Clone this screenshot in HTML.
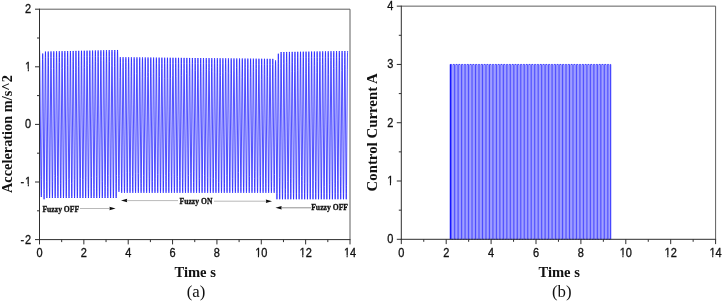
<!DOCTYPE html>
<html><head><meta charset="utf-8"><style>
html,body{margin:0;padding:0;background:#fff;width:723px;height:301px;overflow:hidden}
</style></head><body>
<svg width="723" height="301" viewBox="0 0 723 301" style="position:absolute;left:0;top:0;will-change:transform"><path fill="none" stroke="#2020ff" stroke-width="0.78" d="M39.50,49.52 39.61,50.83 39.73,55.58 39.85,62.58 40.86,176.21 41.07,190.91 41.19,195.67 41.30,196.98 41.39,195.71 41.48,191.08 41.61,179.78 42.34,75.00 42.51,59.45 42.60,54.82 42.69,53.55 42.77,54.84 42.87,59.54 42.98,69.35 43.76,182.05 43.89,193.29 43.99,197.99 44.07,199.28 44.16,197.97 44.25,193.21 44.30,189.49 45.17,66.97 45.28,57.65 45.38,52.89 45.46,51.58 45.54,52.87 45.64,57.60 45.69,61.05 46.55,181.70 46.67,191.99 46.76,196.72 46.85,198.01 46.93,196.72 47.03,191.99 47.08,188.16 47.88,73.12 48.05,57.54 48.15,52.81 48.23,51.52 48.32,52.81 48.41,57.54 48.51,65.84 49.37,186.94 49.44,191.99 49.54,196.72 49.62,198.01 49.70,196.71 49.80,191.99 49.86,187.53 50.68,70.95 50.82,57.48 50.92,52.75 51.01,51.45 51.09,52.75 51.19,57.48 51.31,68.68 52.16,188.36 52.21,191.99 52.31,196.71 52.39,198.01 52.47,196.71 52.57,191.98 52.69,181.52 53.47,68.27 53.60,57.42 53.69,52.69 53.78,51.39 53.86,52.69 53.96,57.42 54.13,74.12 54.81,175.66 54.98,191.98 55.08,196.71 55.16,198.01 55.25,196.71 55.34,191.98 55.50,177.20 56.23,69.82 56.37,57.36 56.47,52.63 56.55,51.33 56.63,52.63 56.73,57.36 56.79,62.07 57.59,176.82 57.76,191.98 57.85,196.71 57.94,198.01 58.02,196.71 58.12,191.98 58.20,185.22 59.07,62.49 59.14,57.31 59.24,52.57 59.32,51.27 59.41,52.57 59.50,57.31 59.57,62.46 60.43,183.75 60.53,191.98 60.63,196.71 60.71,198.01 60.79,196.71 60.89,191.98 61.02,180.59 61.79,68.46 61.91,57.25 62.01,52.51 62.09,51.21 62.18,52.51 62.27,57.25 62.39,67.29 63.13,175.90 63.30,191.98 63.40,196.71 63.48,198.01 63.56,196.71 63.66,191.97 63.71,188.26 64.53,70.96 64.69,57.19 64.78,52.45 64.87,51.15 64.95,52.45 65.05,57.19 65.18,69.20 65.95,181.56 66.07,191.97 66.17,196.71 66.25,198.01 66.34,196.71 66.43,191.97 66.52,185.13 67.36,65.31 67.46,57.13 67.56,52.39 67.64,51.09 67.72,52.39 67.82,57.13 67.92,65.85 68.71,179.65 68.85,191.97 68.94,196.71 69.03,198.01 69.11,196.71 69.21,191.97 69.36,178.18 70.15,63.75 70.23,57.07 70.33,52.33 70.41,51.03 70.49,52.33 70.59,57.07 70.67,63.02 71.52,183.63 71.62,191.97 71.71,196.71 71.80,198.01 71.88,196.71 71.98,191.97 72.09,182.23 72.94,61.50 73.00,57.01 73.10,52.27 73.18,50.97 73.27,52.27 73.36,57.01 73.51,69.79 74.25,179.46 74.39,191.97 74.49,196.71 74.57,198.01 74.65,196.71 74.75,191.96 74.93,175.14 75.61,72.15 75.78,56.95 75.87,52.21 75.96,50.90 76.04,52.21 76.14,56.95 76.24,65.20 77.09,186.03 77.16,191.96 77.26,196.71 77.34,198.01 77.43,196.71 77.52,191.96 77.59,187.15 78.44,66.44 78.55,56.89 78.65,52.15 78.73,50.84 78.81,52.15 78.91,56.89 78.96,60.39 79.85,184.87 79.93,191.96 80.03,196.71 80.11,198.01 80.20,196.71 80.29,191.96 80.44,178.62 81.22,65.21 81.32,56.84 81.42,52.09 81.50,50.78 81.58,52.09 81.68,56.84 81.84,71.94 82.57,179.83 82.71,191.96 82.80,196.71 82.89,198.01 82.97,196.71 83.07,191.96 83.20,179.68 83.99,64.86 84.09,56.78 84.19,52.03 84.27,50.72 84.36,52.03 84.45,56.78 84.58,67.33 85.36,181.93 85.48,191.96 85.58,196.71 85.66,198.01 85.74,196.71 85.84,191.95 86.00,177.41 86.82,60.40 86.87,56.72 86.96,51.96 87.05,50.66 87.13,51.96 87.23,56.72 87.33,65.75 88.16,184.80 88.25,191.95 88.35,196.71 88.43,198.01 88.51,196.71 88.61,191.95 88.66,188.21 89.55,63.32 89.64,56.66 89.73,51.90 89.82,50.60 89.90,51.90 90.00,56.66 90.13,68.21 90.98,188.82 91.02,191.95 91.12,196.71 91.20,198.01 91.29,196.71 91.38,191.95 91.54,177.68 92.27,69.20 92.41,56.60 92.51,51.84 92.59,50.54 92.67,51.84 92.77,56.60 92.87,64.43 93.71,184.85 93.80,191.95 93.89,196.71 93.98,198.01 94.06,196.71 94.16,191.95 94.20,188.63 95.07,66.50 95.18,56.54 95.28,51.78 95.36,50.48 95.45,51.78 95.54,56.54 95.61,61.57 96.40,176.69 96.57,191.95 96.67,196.71 96.75,198.01 96.83,196.71 96.93,191.94 96.98,188.21 97.88,62.30 97.95,56.48 98.05,51.72 98.13,50.41 98.22,51.72 98.31,56.48 98.37,61.04 99.19,178.76 99.34,191.94 99.44,196.71 99.52,198.01 99.60,196.71 99.70,191.94 99.80,184.04 100.67,60.97 100.73,56.43 100.82,51.66 100.91,50.35 100.99,51.66 101.09,56.43 101.14,60.41 101.99,181.79 102.11,191.94 102.21,196.71 102.29,198.01 102.38,196.70 102.47,191.94 102.59,181.80 103.44,60.78 103.50,56.37 103.60,51.60 103.68,50.29 103.76,51.60 103.86,56.37 104.01,70.62 104.82,187.30 104.89,191.94 104.98,196.70 105.07,198.01 105.15,196.70 105.25,191.94 105.33,185.52 106.15,66.96 106.27,56.31 106.37,51.54 106.45,50.23 106.53,51.54 106.63,56.31 106.72,63.79 107.60,187.54 107.66,191.94 107.75,196.70 107.84,198.01 107.92,196.70 108.02,191.93 108.19,175.41 108.88,70.99 109.04,56.25 109.14,51.48 109.22,50.17 109.31,51.48 109.40,56.25 109.47,61.38 110.28,178.48 110.43,191.93 110.53,196.70 110.61,198.01 110.69,196.70 110.79,191.93 110.86,186.08 111.70,65.84 111.82,56.19 111.91,51.42 112.00,50.11 112.08,51.42 112.18,56.19 112.30,66.92 113.06,178.96 113.20,191.93 113.30,196.70 113.38,198.01 113.47,196.70 113.56,191.93 113.60,188.82 114.47,66.75 114.59,56.13 114.69,51.36 114.77,50.05 114.85,51.36 114.95,56.13 115.04,63.76 115.87,183.42 115.97,191.93 116.07,196.70 116.15,198.01 116.24,196.70 116.33,191.93 116.51,175.45 117.28,62.91 117.36,56.07 117.46,51.30 117.54,49.99 117.62,51.24 117.72,55.82 117.83,65.08 118.65,178.48 118.75,185.96 118.84,190.54 118.93,191.79 119.01,190.60 119.11,186.26 119.24,175.31 119.96,77.61 120.13,62.74 120.23,58.40 120.31,57.21 120.40,58.41 120.49,62.78 120.66,77.05 121.45,181.99 121.52,187.20 121.62,191.57 121.70,192.77 121.78,191.57 121.88,187.20 122.04,173.31 122.84,67.81 122.91,62.81 123.00,58.44 123.09,57.24 123.17,58.44 123.27,62.81 123.36,70.09 124.17,177.21 124.29,187.20 124.39,191.57 124.47,192.77 124.55,191.57 124.65,187.20 124.71,183.30 125.59,69.78 125.68,62.84 125.77,58.47 125.86,57.27 125.94,58.47 126.04,62.84 126.09,66.30 126.89,172.43 127.06,187.20 127.16,191.57 127.24,192.77 127.33,191.57 127.42,187.20 127.49,182.13 128.29,76.21 128.45,62.87 128.55,58.50 128.63,57.30 128.71,58.50 128.81,62.87 128.90,69.50 129.66,172.21 129.84,187.20 129.93,191.57 130.02,192.77 130.10,191.57 130.20,187.20 130.24,184.39 131.06,76.40 131.22,62.90 131.32,58.53 131.40,57.33 131.49,58.53 131.58,62.90 131.64,66.78 132.48,176.73 132.61,187.20 132.71,191.57 132.79,192.77 132.87,191.57 132.97,187.20 133.01,184.13 133.94,67.07 133.99,62.93 134.09,58.56 134.17,57.36 134.26,58.56 134.35,62.93 134.48,73.09 135.22,173.67 135.38,187.20 135.48,191.57 135.56,192.77 135.64,191.57 135.74,187.20 135.82,181.63 136.63,73.64 136.77,62.96 136.86,58.59 136.95,57.39 137.03,58.59 137.13,62.96 137.22,69.87 137.99,173.29 138.15,187.20 138.25,191.57 138.33,192.77 138.42,191.57 138.51,187.21 138.67,173.71 139.50,65.86 139.54,62.99 139.64,58.62 139.72,57.42 139.80,58.62 139.90,62.99 140.01,71.18 140.81,178.36 140.93,187.21 141.02,191.57 141.11,192.77 141.19,191.57 141.29,187.21 141.34,183.50 142.15,77.23 142.31,63.01 142.41,58.65 142.49,57.45 142.57,58.65 142.67,63.01 142.76,69.66 143.55,175.36 143.70,187.21 143.79,191.57 143.88,192.77 143.96,191.57 144.06,187.21 144.21,174.02 144.93,76.38 145.08,63.04 145.18,58.68 145.26,57.48 145.35,58.68 145.44,63.04 145.49,66.08 146.42,183.90 146.47,187.21 146.57,191.57 146.65,192.77 146.73,191.57 146.83,187.21 146.95,178.21 147.70,76.62 147.86,63.07 147.95,58.71 148.04,57.51 148.12,58.71 148.22,63.07 148.33,72.27 149.07,171.85 149.24,187.21 149.34,191.57 149.42,192.77 149.51,191.57 149.60,187.21 149.72,178.21 150.58,66.12 150.63,63.10 150.73,58.74 150.81,57.54 150.89,58.74 150.99,63.10 151.15,76.80 151.93,181.03 152.01,187.21 152.11,191.57 152.19,192.77 152.28,191.57 152.38,187.21 152.45,181.54 153.27,73.54 153.40,63.13 153.50,58.77 153.58,57.57 153.66,58.77 153.76,63.13 153.83,67.72 154.71,181.93 154.79,187.21 154.88,191.57 154.97,192.77 155.05,191.57 155.15,187.21 155.26,178.16 156.10,68.36 156.17,63.16 156.27,58.80 156.35,57.60 156.44,58.80 156.53,63.16 156.62,69.64 157.41,174.79 157.56,187.21 157.66,191.57 157.74,192.77 157.82,191.57 157.92,187.21 158.07,174.29 158.90,66.14 158.95,63.19 159.04,58.83 159.13,57.63 159.21,58.83 159.31,63.19 159.47,76.72 160.26,182.32 160.33,187.21 160.43,191.57 160.51,192.77 160.59,191.57 160.69,187.22 160.85,174.19 161.64,68.87 161.72,63.22 161.81,58.86 161.90,57.66 161.98,58.86 162.08,63.22 162.15,68.48 163.00,178.82 163.10,187.22 163.20,191.57 163.28,192.77 163.37,191.57 163.46,187.22 163.56,180.42 164.31,78.55 164.49,63.25 164.59,58.89 164.67,57.69 164.75,58.89 164.85,63.25 164.90,66.33 165.73,175.60 165.88,187.22 165.97,191.57 166.06,192.77 166.14,191.58 166.24,187.22 166.31,181.58 167.18,69.49 167.26,63.27 167.36,58.92 167.44,57.72 167.53,58.92 167.62,63.27 167.80,78.35 168.53,177.91 168.65,187.22 168.75,191.58 168.83,192.77 168.91,191.58 169.01,187.22 169.18,172.44 169.99,66.22 170.03,63.30 170.13,58.95 170.21,57.75 170.30,58.95 170.40,63.30 170.57,78.36 171.29,176.80 171.42,187.22 171.52,191.58 171.60,192.77 171.68,191.58 171.78,187.22 171.85,182.03 172.66,75.69 172.81,63.33 172.90,58.98 172.99,57.78 173.07,58.98 173.17,63.33 173.24,68.25 174.04,174.54 174.19,187.22 174.29,191.58 174.37,192.77 174.46,191.58 174.55,187.22 174.68,176.96 175.52,67.20 175.58,63.36 175.68,59.01 175.76,57.81 175.84,59.01 175.94,63.36 176.10,76.69 176.85,178.34 176.97,187.22 177.06,191.58 177.15,192.77 177.23,191.58 177.33,187.22 177.46,176.57 178.28,68.35 178.35,63.39 178.45,59.04 178.53,57.84 178.62,59.04 178.71,63.39 178.77,67.07 179.65,180.63 179.74,187.22 179.83,191.58 179.92,192.77 180.00,191.58 180.10,187.22 180.27,172.87 181.05,68.57 181.12,63.42 181.22,59.07 181.30,57.87 181.39,59.07 181.48,63.42 181.63,75.43 182.40,178.33 182.51,187.22 182.61,191.58 182.69,192.77 182.77,191.58 182.87,187.22 182.94,182.52 183.83,68.52 183.90,63.45 183.99,59.10 184.08,57.90 184.16,59.10 184.26,63.45 184.34,69.95 185.21,182.28 185.28,187.22 185.38,191.58 185.46,192.77 185.55,191.58 185.64,187.23 185.82,171.94 186.54,73.46 186.67,63.48 186.77,59.13 186.85,57.93 186.93,59.13 187.03,63.48 187.13,70.82 188.01,183.88 188.05,187.23 188.15,191.58 188.24,192.77 188.32,191.58 188.42,187.23 188.56,175.58 189.28,76.67 189.44,63.51 189.54,59.16 189.62,57.96 189.70,59.16 189.80,63.51 189.86,67.64 190.67,173.79 190.83,187.23 190.92,191.58 191.01,192.77 191.09,191.58 191.19,187.23 191.35,172.96 192.14,68.41 192.21,63.53 192.31,59.19 192.39,57.99 192.48,59.19 192.57,63.53 192.64,67.88 193.53,182.58 193.60,187.23 193.70,191.58 193.78,192.77 193.86,191.58 193.96,187.23 194.14,171.82 194.90,70.19 194.99,63.56 195.08,59.21 195.17,58.02 195.25,59.21 195.35,63.56 195.44,70.28 196.27,179.26 196.37,187.23 196.47,191.58 196.55,192.77 196.64,191.58 196.73,187.23 196.79,183.05 197.58,79.08 197.76,63.59 197.85,59.24 197.94,58.05 198.02,59.24 198.12,63.59 198.29,78.85 199.05,180.52 199.14,187.23 199.24,191.58 199.32,192.77 199.41,191.58 199.50,187.23 199.62,178.29 200.48,67.10 200.53,63.62 200.63,59.27 200.71,58.08 200.79,59.27 200.89,63.62 200.99,71.37 201.86,183.09 201.92,187.23 202.01,191.58 202.10,192.77 202.18,191.58 202.28,187.23 202.43,174.14 203.15,76.20 203.30,63.65 203.40,59.30 203.48,58.11 203.57,59.30 203.66,63.65 203.74,69.19 204.55,175.85 204.69,187.23 204.79,191.58 204.87,192.77 204.95,191.58 205.05,187.23 205.12,181.83 205.98,71.17 206.07,63.68 206.17,59.33 206.26,58.14 206.34,59.33 206.44,63.68 206.51,69.30 207.34,177.58 207.46,187.23 207.56,191.58 207.64,192.77 207.72,191.58 207.82,187.24 207.88,183.06 208.79,67.44 208.85,63.71 208.94,59.36 209.03,58.17 209.11,59.36 209.21,63.71 209.30,70.46 210.12,178.10 210.23,187.24 210.33,191.58 210.41,192.77 210.50,191.58 210.59,187.24 210.72,177.55 211.56,67.53 211.62,63.74 211.72,59.39 211.80,58.20 211.88,59.39 211.98,63.74 212.08,71.31 212.95,183.59 213.01,187.24 213.10,191.58 213.19,192.77 213.27,191.58 213.37,187.24 213.48,178.63 214.29,71.94 214.39,63.77 214.49,59.42 214.57,58.23 214.66,59.42 214.75,63.77 214.87,72.65 215.60,171.84 215.78,187.24 215.88,191.58 215.96,192.77 216.04,191.58 216.14,187.24 216.24,179.42 217.01,76.74 217.16,63.79 217.26,59.45 217.34,58.26 217.43,59.45 217.52,63.79 217.57,66.62 218.48,182.29 218.55,187.24 218.65,191.58 218.73,192.77 218.81,191.58 218.91,187.24 218.98,182.61 219.82,72.75 219.94,63.82 220.03,59.48 220.12,58.29 220.20,59.48 220.30,63.82 220.44,75.45 221.22,179.38 221.32,187.24 221.42,191.58 221.50,192.77 221.59,191.58 221.68,187.24 221.77,180.84 222.60,72.19 222.71,63.85 222.81,59.51 222.89,58.32 222.97,59.51 223.07,63.85 223.19,73.16 224.02,182.13 224.10,187.24 224.19,191.58 224.28,192.77 224.36,191.58 224.46,187.24 224.51,183.35 225.38,71.69 225.48,63.88 225.58,59.54 225.66,58.35 225.74,59.54 225.84,63.88 225.92,69.37 226.73,175.65 226.87,187.24 226.96,191.58 227.05,192.77 227.13,191.58 227.23,187.24 227.38,174.96 228.14,72.38 228.25,63.91 228.35,59.57 228.43,58.38 228.52,59.57 228.61,63.91 228.73,73.29 229.56,181.85 229.64,187.24 229.74,191.58 229.82,192.77 229.90,191.58 230.00,187.25 230.17,172.91 230.91,73.25 231.03,63.94 231.12,59.60 231.21,58.41 231.29,59.60 231.39,63.94 231.51,74.00 232.30,178.75 232.41,187.25 232.51,191.58 232.59,192.77 232.68,191.58 232.77,187.25 232.88,178.52 233.71,70.14 233.80,63.97 233.90,59.63 233.98,58.44 234.06,59.63 234.16,63.97 234.26,71.93 235.08,179.10 235.18,187.25 235.28,191.58 235.36,192.77 235.45,191.58 235.54,187.25 235.65,178.96 236.52,67.38 236.57,64.00 236.67,59.66 236.75,58.47 236.83,59.66 236.93,64.00 237.07,75.24 237.90,183.17 237.96,187.25 238.05,191.58 238.14,192.77 238.22,191.58 238.32,187.25 238.49,172.47 239.20,75.85 239.34,64.03 239.44,59.69 239.52,58.50 239.61,59.69 239.70,64.03 239.82,73.37 240.68,183.88 240.73,187.25 240.83,191.58 240.91,192.77 240.99,191.58 241.09,187.25 241.25,174.00 241.95,77.64 242.12,64.05 242.21,59.72 242.30,58.53 242.38,59.72 242.48,64.05 242.53,68.11 243.38,177.93 243.50,187.25 243.60,191.58 243.68,192.77 243.76,191.58 243.86,187.25 243.91,183.72 244.74,76.17 244.89,64.08 244.98,59.75 245.07,58.56 245.15,59.75 245.25,64.08 245.30,67.62 246.19,180.80 246.27,187.25 246.37,191.58 246.45,192.77 246.54,191.58 246.63,187.25 246.78,174.82 247.60,67.97 247.66,64.11 247.76,59.78 247.84,58.59 247.92,59.78 248.02,64.11 248.08,68.53 248.96,181.36 249.05,187.25 249.14,191.58 249.23,192.77 249.31,191.58 249.41,187.25 249.54,176.56 250.27,77.63 250.43,64.14 250.53,59.81 250.61,58.62 250.70,59.81 250.79,64.14 250.96,78.01 251.77,184.14 251.82,187.25 251.92,191.58 252.00,192.77 252.08,191.58 252.18,187.26 252.25,182.11 253.16,67.44 253.20,64.17 253.30,59.84 253.38,58.65 253.47,59.84 253.56,64.17 253.66,71.44 254.48,178.53 254.59,187.26 254.69,191.58 254.77,192.77 254.85,191.58 254.95,187.26 255.13,171.78 255.91,68.76 255.98,64.20 256.07,59.87 256.16,58.68 256.24,59.87 256.34,64.20 256.40,68.69 257.24,177.81 257.36,187.26 257.46,191.58 257.54,192.77 257.63,191.58 257.72,187.26 257.84,178.50 258.62,74.92 258.75,64.23 258.85,59.90 258.93,58.71 259.01,59.90 259.11,64.23 259.18,69.10 260.00,176.28 260.14,187.26 260.23,191.58 260.32,192.77 260.40,191.58 260.50,187.26 260.64,175.72 261.34,79.59 261.52,64.26 261.62,59.93 261.70,58.74 261.78,59.93 261.88,64.26 262.00,73.51 262.79,177.93 262.91,187.26 263.00,191.58 263.09,192.77 263.17,191.58 263.27,187.26 263.31,184.30 264.16,75.08 264.29,64.29 264.39,59.96 264.47,58.77 264.56,59.96 264.65,64.29 264.78,74.47 265.57,178.87 265.68,187.26 265.78,191.58 265.86,192.77 265.94,191.58 266.04,187.26 266.09,183.82 267.02,67.24 267.07,64.31 267.16,59.99 267.25,58.80 267.33,59.99 267.43,64.31 267.58,76.79 268.41,184.20 268.45,187.26 268.55,191.58 268.63,192.77 268.72,191.59 268.81,187.26 268.87,183.39 269.69,76.05 269.84,64.34 269.94,60.02 270.02,58.83 270.10,60.02 270.20,64.34 270.25,67.52 271.15,182.11 271.22,187.26 271.32,191.59 271.40,192.77 271.49,191.59 271.58,187.26 271.66,181.54 272.45,78.04 272.61,64.37 272.71,60.05 272.79,58.87 272.87,60.05 272.97,64.37 273.07,71.93 273.94,183.57 274.00,187.26 274.09,191.59 274.18,192.77 274.26,191.60 274.36,187.33 274.51,174.56 275.24,77.52 275.38,65.85 275.48,61.58 275.56,60.41 275.65,61.64 275.74,66.12 275.81,70.63 276.72,189.82 276.77,193.57 276.87,198.05 276.95,199.28 277.03,197.99 277.13,193.29 277.25,183.00 278.07,66.30 278.16,59.71 278.25,55.01 278.34,53.72 278.42,55.01 278.52,59.71 278.57,63.74 279.37,177.27 279.54,193.29 279.64,197.99 279.72,199.28 279.80,197.98 279.90,193.23 280.04,181.06 280.81,68.57 280.93,58.10 281.02,53.35 281.11,52.04 281.19,53.35 281.29,58.10 281.34,61.97 282.26,189.48 282.31,193.23 282.41,197.98 282.49,199.28 282.58,197.98 282.67,193.22 282.80,181.87 283.63,63.44 283.70,58.06 283.80,53.31 283.88,52.00 283.96,53.31 284.06,58.06 284.11,62.07 285.02,188.50 285.09,193.22 285.18,197.98 285.27,199.28 285.35,197.98 285.45,193.22 285.50,189.41 286.41,62.66 286.47,58.02 286.57,53.26 286.65,51.96 286.74,53.26 286.83,58.02 286.94,66.77 287.73,181.47 287.86,193.22 287.96,197.98 288.04,199.28 288.12,197.97 288.22,193.22 288.34,183.06 289.19,61.86 289.24,57.97 289.34,53.22 289.42,51.91 289.51,53.22 289.60,57.97 289.68,64.24 290.47,178.17 290.63,193.22 290.73,197.97 290.81,199.28 290.89,197.97 290.99,193.22 291.11,183.43 291.87,71.24 292.02,57.93 292.11,53.18 292.20,51.87 292.28,53.18 292.38,57.93 292.43,62.25 293.25,178.69 293.40,193.22 293.50,197.97 293.58,199.28 293.67,197.97 293.76,193.22 293.81,189.59 294.64,71.78 294.79,57.89 294.89,53.13 294.97,51.83 295.05,53.13 295.15,57.89 295.23,64.73 296.04,180.93 296.18,193.22 296.27,197.97 296.36,199.28 296.44,197.97 296.54,193.21 296.68,179.93 297.42,70.37 297.56,57.85 297.66,53.09 297.74,51.78 297.82,53.09 297.92,57.85 298.03,67.26 298.79,178.94 298.95,193.21 299.04,197.97 299.13,199.28 299.21,197.97 299.31,193.21 299.40,185.90 300.16,74.70 300.33,57.81 300.43,53.05 300.51,51.74 300.60,53.05 300.69,57.81 300.77,63.86 301.54,176.27 301.72,193.21 301.82,197.97 301.90,199.28 301.98,197.97 302.08,193.21 302.22,180.33 303.00,66.46 303.11,57.76 303.20,53.00 303.29,51.70 303.37,53.00 303.47,57.76 303.53,63.05 304.38,183.43 304.49,193.21 304.59,197.97 304.67,199.28 304.76,197.97 304.85,193.21 305.02,177.09 305.71,73.17 305.88,57.72 305.98,52.96 306.06,51.65 306.14,52.96 306.24,57.72 306.39,71.96 307.14,182.81 307.26,193.21 307.36,197.97 307.44,199.28 307.53,197.97 307.63,193.21 307.74,183.86 308.59,62.68 308.65,57.68 308.75,52.92 308.83,51.61 308.91,52.92 309.01,57.68 309.11,65.62 309.93,183.88 310.04,193.21 310.13,197.97 310.22,199.28 310.30,197.97 310.40,193.21 310.53,181.01 311.38,60.90 311.42,57.64 311.52,52.87 311.60,51.56 311.69,52.87 311.78,57.64 311.87,64.90 312.74,188.18 312.81,193.21 312.91,197.97 312.99,199.28 313.07,197.97 313.17,193.20 313.31,180.71 314.10,65.14 314.20,57.60 314.29,52.83 314.38,51.52 314.46,52.83 314.56,57.60 314.65,65.69 315.45,181.54 315.58,193.20 315.68,197.97 315.76,199.28 315.85,197.97 315.94,193.20 315.99,189.52 316.81,72.64 316.97,57.56 317.06,52.79 317.15,51.48 317.23,52.79 317.33,57.56 317.38,61.43 318.28,187.03 318.35,193.20 318.45,197.97 318.53,199.28 318.62,197.97 318.71,193.20 318.79,187.07 319.58,72.06 319.74,57.51 319.84,52.74 319.92,51.43 320.00,52.74 320.10,57.51 320.15,61.55 321.06,188.28 321.13,193.20 321.22,197.97 321.31,199.28 321.39,197.97 321.49,193.20 321.65,178.10 322.43,64.56 322.51,57.47 322.61,52.70 322.69,51.39 322.78,52.70 322.87,57.47 322.95,63.94 323.75,179.91 323.90,193.20 324.00,197.97 324.08,199.28 324.16,197.97 324.26,193.20 324.34,186.58 325.17,67.45 325.28,57.43 325.38,52.66 325.46,51.35 325.55,52.66 325.65,57.43 325.71,62.34 326.55,182.98 326.67,193.20 326.77,197.97 326.85,199.28 326.93,197.97 327.03,193.19 327.11,186.96 328.01,60.89 328.06,57.39 328.15,52.61 328.24,51.30 328.32,52.61 328.42,57.39 328.59,74.18 329.34,184.42 329.44,193.19 329.54,197.97 329.62,199.28 329.71,197.97 329.80,193.19 329.88,187.20 330.78,60.80 330.83,57.35 330.93,52.57 331.01,51.26 331.09,52.57 331.19,57.35 331.27,64.18 332.08,181.65 332.22,193.19 332.31,197.97 332.40,199.28 332.48,197.97 332.58,193.19 332.62,190.11 333.47,68.48 333.60,57.30 333.70,52.53 333.78,51.22 333.87,52.53 333.96,57.30 334.07,66.39 334.88,183.78 334.99,193.19 335.08,197.97 335.17,199.28 335.25,197.97 335.35,193.19 335.42,187.74 336.26,66.64 336.37,57.26 336.47,52.48 336.55,51.17 336.64,52.48 336.73,57.26 336.78,60.39 337.62,180.22 337.76,193.19 337.86,197.97 337.94,199.28 338.02,197.97 338.12,193.19 338.17,189.09 339.02,68.13 339.15,57.22 339.24,52.44 339.33,51.13 339.41,52.44 339.51,57.22 339.55,60.76 340.36,176.29 340.53,193.19 340.63,197.97 340.71,199.28 340.80,197.97 340.89,193.19 340.98,186.41 341.77,70.65 341.92,57.18 342.02,52.40 342.10,51.08 342.18,52.40 342.28,57.18 342.40,67.88 343.20,184.14 343.30,193.19 343.40,197.97 343.49,199.28 343.57,197.97 343.67,193.18 343.81,179.97 344.60,64.42 344.69,57.14 344.79,52.35 344.87,51.04 344.95,52.35 345.05,57.14 345.19,69.81 346.02,188.71 346.08,193.18 346.17,197.97 346.26,199.28 346.34,197.97 346.44,193.18 346.53,185.26 347.33,69.12 347.46,57.09 347.56,52.31 347.64,51.00"/><polyline fill="none" stroke="#2020ff" stroke-width="0.8" points="450.24,239.30 450.24,64.44 451.64,64.44 451.64,239.30 453.05,239.30 453.05,64.44 454.45,64.44 454.45,239.30 455.85,239.30 455.85,64.44 457.26,64.44 457.26,239.30 458.66,239.30 458.66,64.44 460.06,64.44 460.06,239.30 461.47,239.30 461.47,64.44 462.87,64.44 462.87,239.30 464.27,239.30 464.27,64.44 465.68,64.44 465.68,239.30 467.08,239.30 467.08,64.44 468.48,64.44 468.48,239.30 469.88,239.30 469.88,64.44 471.29,64.44 471.29,239.30 472.69,239.30 472.69,64.44 474.09,64.44 474.09,239.30 475.50,239.30 475.50,64.44 476.90,64.44 476.90,239.30 478.30,239.30 478.30,64.44 479.71,64.44 479.71,239.30 481.11,239.30 481.11,64.44 482.51,64.44 482.51,239.30 483.92,239.30 483.92,64.44 485.32,64.44 485.32,239.30 486.72,239.30 486.72,64.44 488.13,64.44 488.13,239.30 489.53,239.30 489.53,64.44 490.93,64.44 490.93,239.30 492.33,239.30 492.33,64.44 493.74,64.44 493.74,239.30 495.14,239.30 495.14,64.44 496.54,64.44 496.54,239.30 497.95,239.30 497.95,64.44 499.35,64.44 499.35,239.30 500.75,239.30 500.75,64.44 502.16,64.44 502.16,239.30 503.56,239.30 503.56,64.44 504.96,64.44 504.96,239.30 506.37,239.30 506.37,64.44 507.77,64.44 507.77,239.30 509.17,239.30 509.17,64.44 510.58,64.44 510.58,239.30 511.98,239.30 511.98,64.44 513.38,64.44 513.38,239.30 514.78,239.30 514.78,64.44 516.19,64.44 516.19,239.30 517.59,239.30 517.59,64.44 518.99,64.44 518.99,239.30 520.40,239.30 520.40,64.44 521.80,64.44 521.80,239.30 523.20,239.30 523.20,64.44 524.61,64.44 524.61,239.30 526.01,239.30 526.01,64.44 527.41,64.44 527.41,239.30 528.82,239.30 528.82,64.44 530.22,64.44 530.22,239.30 531.62,239.30 531.62,64.44 533.03,64.44 533.03,239.30 534.43,239.30 534.43,64.44 535.83,64.44 535.83,239.30 537.23,239.30 537.23,64.44 538.64,64.44 538.64,239.30 540.04,239.30 540.04,64.44 541.44,64.44 541.44,239.30 542.85,239.30 542.85,64.44 544.25,64.44 544.25,239.30 545.65,239.30 545.65,64.44 547.06,64.44 547.06,239.30 548.46,239.30 548.46,64.44 549.86,64.44 549.86,239.30 551.27,239.30 551.27,64.44 552.67,64.44 552.67,239.30 554.07,239.30 554.07,64.44 555.48,64.44 555.48,239.30 556.88,239.30 556.88,64.44 558.28,64.44 558.28,239.30 559.68,239.30 559.68,64.44 561.09,64.44 561.09,239.30 562.49,239.30 562.49,64.44 563.89,64.44 563.89,239.30 565.30,239.30 565.30,64.44 566.70,64.44 566.70,239.30 568.10,239.30 568.10,64.44 569.51,64.44 569.51,239.30 570.91,239.30 570.91,64.44 572.31,64.44 572.31,239.30 573.72,239.30 573.72,64.44 575.12,64.44 575.12,239.30 576.52,239.30 576.52,64.44 577.93,64.44 577.93,239.30 579.33,239.30 579.33,64.44 580.73,64.44 580.73,239.30 582.13,239.30 582.13,64.44 583.54,64.44 583.54,239.30 584.94,239.30 584.94,64.44 586.34,64.44 586.34,239.30 587.75,239.30 587.75,64.44 589.15,64.44 589.15,239.30 590.55,239.30 590.55,64.44 591.96,64.44 591.96,239.30 593.36,239.30 593.36,64.44 594.76,64.44 594.76,239.30 596.17,239.30 596.17,64.44 597.57,64.44 597.57,239.30 598.97,239.30 598.97,64.44 600.38,64.44 600.38,239.30 601.78,239.30 601.78,64.44 603.18,64.44 603.18,239.30 604.58,239.30 604.58,64.44 605.99,64.44 605.99,239.30 607.39,239.30 607.39,64.44 608.79,64.44 608.79,239.30 610.20,239.30 610.20,64.44 610.76,64.44 610.76,239.30 610.76,239.30"/><line x1="450.44" y1="64.44" x2="450.44" y2="239.30" stroke="#1010ff" stroke-width="1"/><line x1="39.5" y1="9.2" x2="350.0" y2="9.2" stroke="#5e5e5e" stroke-width="1"/><line x1="350.0" y1="9.2" x2="350.0" y2="239.6" stroke="#5e5e5e" stroke-width="1"/><line x1="39.5" y1="8.7" x2="39.5" y2="240.1" stroke="#2e2e2e" stroke-width="1"/><line x1="39.0" y1="239.6" x2="350.5" y2="239.6" stroke="#2e2e2e" stroke-width="1"/><line x1="35.0" y1="239.6" x2="39.5" y2="239.6" stroke="#2e2e2e" stroke-width="1"/><line x1="35.0" y1="182.0" x2="39.5" y2="182.0" stroke="#2e2e2e" stroke-width="1"/><line x1="35.0" y1="124.39999999999999" x2="39.5" y2="124.39999999999999" stroke="#2e2e2e" stroke-width="1"/><line x1="35.0" y1="66.79999999999998" x2="39.5" y2="66.79999999999998" stroke="#2e2e2e" stroke-width="1"/><line x1="35.0" y1="9.199999999999989" x2="39.5" y2="9.199999999999989" stroke="#2e2e2e" stroke-width="1"/><line x1="37.0" y1="210.79999999999998" x2="39.5" y2="210.79999999999998" stroke="#2e2e2e" stroke-width="1"/><line x1="37.0" y1="153.2" x2="39.5" y2="153.2" stroke="#2e2e2e" stroke-width="1"/><line x1="37.0" y1="95.6" x2="39.5" y2="95.6" stroke="#2e2e2e" stroke-width="1"/><line x1="37.0" y1="38.0" x2="39.5" y2="38.0" stroke="#2e2e2e" stroke-width="1"/><line x1="39.5" y1="239.6" x2="39.5" y2="244.4" stroke="#2e2e2e" stroke-width="1"/><line x1="83.85714285714286" y1="239.6" x2="83.85714285714286" y2="244.4" stroke="#2e2e2e" stroke-width="1"/><line x1="128.21428571428572" y1="239.6" x2="128.21428571428572" y2="244.4" stroke="#2e2e2e" stroke-width="1"/><line x1="172.57142857142858" y1="239.6" x2="172.57142857142858" y2="244.4" stroke="#2e2e2e" stroke-width="1"/><line x1="216.92857142857142" y1="239.6" x2="216.92857142857142" y2="244.4" stroke="#2e2e2e" stroke-width="1"/><line x1="261.2857142857143" y1="239.6" x2="261.2857142857143" y2="244.4" stroke="#2e2e2e" stroke-width="1"/><line x1="305.64285714285717" y1="239.6" x2="305.64285714285717" y2="244.4" stroke="#2e2e2e" stroke-width="1"/><line x1="350.0" y1="239.6" x2="350.0" y2="244.4" stroke="#2e2e2e" stroke-width="1"/><line x1="61.67857142857143" y1="239.6" x2="61.67857142857143" y2="242.1" stroke="#2e2e2e" stroke-width="1"/><line x1="106.03571428571429" y1="239.6" x2="106.03571428571429" y2="242.1" stroke="#2e2e2e" stroke-width="1"/><line x1="150.39285714285714" y1="239.6" x2="150.39285714285714" y2="242.1" stroke="#2e2e2e" stroke-width="1"/><line x1="194.75" y1="239.6" x2="194.75" y2="242.1" stroke="#2e2e2e" stroke-width="1"/><line x1="239.10714285714286" y1="239.6" x2="239.10714285714286" y2="242.1" stroke="#2e2e2e" stroke-width="1"/><line x1="283.4642857142857" y1="239.6" x2="283.4642857142857" y2="242.1" stroke="#2e2e2e" stroke-width="1"/><line x1="327.82142857142856" y1="239.6" x2="327.82142857142856" y2="242.1" stroke="#2e2e2e" stroke-width="1"/><line x1="401.3" y1="6.15" x2="715.6" y2="6.15" stroke="#5e5e5e" stroke-width="1"/><line x1="715.6" y1="6.15" x2="715.6" y2="239.3" stroke="#5e5e5e" stroke-width="1"/><line x1="401.3" y1="5.65" x2="401.3" y2="239.8" stroke="#2e2e2e" stroke-width="1"/><line x1="400.8" y1="239.3" x2="716.1" y2="239.3" stroke="#2e2e2e" stroke-width="1"/><line x1="396.8" y1="239.3" x2="401.3" y2="239.3" stroke="#2e2e2e" stroke-width="1"/><line x1="396.8" y1="181.01250000000002" x2="401.3" y2="181.01250000000002" stroke="#2e2e2e" stroke-width="1"/><line x1="396.8" y1="122.72500000000001" x2="401.3" y2="122.72500000000001" stroke="#2e2e2e" stroke-width="1"/><line x1="396.8" y1="64.4375" x2="401.3" y2="64.4375" stroke="#2e2e2e" stroke-width="1"/><line x1="396.8" y1="6.150000000000006" x2="401.3" y2="6.150000000000006" stroke="#2e2e2e" stroke-width="1"/><line x1="398.8" y1="210.15625" x2="401.3" y2="210.15625" stroke="#2e2e2e" stroke-width="1"/><line x1="398.8" y1="151.86875" x2="401.3" y2="151.86875" stroke="#2e2e2e" stroke-width="1"/><line x1="398.8" y1="93.58125000000001" x2="401.3" y2="93.58125000000001" stroke="#2e2e2e" stroke-width="1"/><line x1="398.8" y1="35.29375000000002" x2="401.3" y2="35.29375000000002" stroke="#2e2e2e" stroke-width="1"/><line x1="401.3" y1="239.3" x2="401.3" y2="244.10000000000002" stroke="#2e2e2e" stroke-width="1"/><line x1="446.2" y1="239.3" x2="446.2" y2="244.10000000000002" stroke="#2e2e2e" stroke-width="1"/><line x1="491.1" y1="239.3" x2="491.1" y2="244.10000000000002" stroke="#2e2e2e" stroke-width="1"/><line x1="536.0" y1="239.3" x2="536.0" y2="244.10000000000002" stroke="#2e2e2e" stroke-width="1"/><line x1="580.9" y1="239.3" x2="580.9" y2="244.10000000000002" stroke="#2e2e2e" stroke-width="1"/><line x1="625.8" y1="239.3" x2="625.8" y2="244.10000000000002" stroke="#2e2e2e" stroke-width="1"/><line x1="670.7" y1="239.3" x2="670.7" y2="244.10000000000002" stroke="#2e2e2e" stroke-width="1"/><line x1="715.6" y1="239.3" x2="715.6" y2="244.10000000000002" stroke="#2e2e2e" stroke-width="1"/><line x1="423.75" y1="239.3" x2="423.75" y2="241.8" stroke="#2e2e2e" stroke-width="1"/><line x1="468.65000000000003" y1="239.3" x2="468.65000000000003" y2="241.8" stroke="#2e2e2e" stroke-width="1"/><line x1="513.55" y1="239.3" x2="513.55" y2="241.8" stroke="#2e2e2e" stroke-width="1"/><line x1="558.45" y1="239.3" x2="558.45" y2="241.8" stroke="#2e2e2e" stroke-width="1"/><line x1="603.35" y1="239.3" x2="603.35" y2="241.8" stroke="#2e2e2e" stroke-width="1"/><line x1="648.25" y1="239.3" x2="648.25" y2="241.8" stroke="#2e2e2e" stroke-width="1"/><line x1="693.1500000000001" y1="239.3" x2="693.1500000000001" y2="241.8" stroke="#2e2e2e" stroke-width="1"/><g transform="translate(20.52,243.60) scale(1,1.17)"><text x="0.00" y="0" fill="#111" stroke="#111" stroke-width="0.28" style="font-family:'Liberation Sans',sans-serif;font-size:11.0px">-</text><text x="4.56" y="0" fill="#111" stroke="#111" stroke-width="0.28" style="font-family:'Liberation Sans',sans-serif;font-size:11.0px">2</text></g><g transform="translate(20.52,186.00) scale(1,1.17)"><text x="0.00" y="0" fill="#111" stroke="#111" stroke-width="0.28" style="font-family:'Liberation Sans',sans-serif;font-size:11.0px">-</text><text x="4.56" y="0" fill="#111" stroke="#111" stroke-width="0.28" style="font-family:'Liberation Sans',sans-serif;font-size:11.0px">1</text><rect x="4.24" y="-1.77" width="3.03" height="3.44" fill="#fff"/><rect x="8.36" y="-1.77" width="2.52" height="3.44" fill="#fff"/></g><g transform="translate(25.08,128.40) scale(1,1.17)"><text x="0.00" y="0" fill="#111" stroke="#111" stroke-width="0.28" style="font-family:'Liberation Sans',sans-serif;font-size:11.0px">0</text></g><g transform="translate(25.08,70.80) scale(1,1.17)"><text x="0.00" y="0" fill="#111" stroke="#111" stroke-width="0.28" style="font-family:'Liberation Sans',sans-serif;font-size:11.0px">1</text><rect x="-0.32" y="-1.77" width="3.03" height="3.44" fill="#fff"/><rect x="3.79" y="-1.77" width="2.52" height="3.44" fill="#fff"/></g><g transform="translate(25.08,13.20) scale(1,1.17)"><text x="0.00" y="0" fill="#111" stroke="#111" stroke-width="0.28" style="font-family:'Liberation Sans',sans-serif;font-size:11.0px">2</text></g><g transform="translate(36.44,257.20) scale(1,1.17)"><text x="0.00" y="0" fill="#111" stroke="#111" stroke-width="0.28" style="font-family:'Liberation Sans',sans-serif;font-size:11.0px">0</text></g><g transform="translate(80.80,257.20) scale(1,1.17)"><text x="0.00" y="0" fill="#111" stroke="#111" stroke-width="0.28" style="font-family:'Liberation Sans',sans-serif;font-size:11.0px">2</text></g><g transform="translate(125.16,257.20) scale(1,1.17)"><text x="0.00" y="0" fill="#111" stroke="#111" stroke-width="0.28" style="font-family:'Liberation Sans',sans-serif;font-size:11.0px">4</text></g><g transform="translate(169.51,257.20) scale(1,1.17)"><text x="0.00" y="0" fill="#111" stroke="#111" stroke-width="0.28" style="font-family:'Liberation Sans',sans-serif;font-size:11.0px">6</text></g><g transform="translate(213.87,257.20) scale(1,1.17)"><text x="0.00" y="0" fill="#111" stroke="#111" stroke-width="0.28" style="font-family:'Liberation Sans',sans-serif;font-size:11.0px">8</text></g><g transform="translate(255.17,257.20) scale(1,1.17)"><text x="0.00" y="0" fill="#111" stroke="#111" stroke-width="0.28" style="font-family:'Liberation Sans',sans-serif;font-size:11.0px">1</text><rect x="-0.32" y="-1.77" width="3.03" height="3.44" fill="#fff"/><rect x="3.79" y="-1.77" width="2.52" height="3.44" fill="#fff"/><text x="6.12" y="0" fill="#111" stroke="#111" stroke-width="0.28" style="font-family:'Liberation Sans',sans-serif;font-size:11.0px">0</text></g><g transform="translate(299.53,257.20) scale(1,1.17)"><text x="0.00" y="0" fill="#111" stroke="#111" stroke-width="0.28" style="font-family:'Liberation Sans',sans-serif;font-size:11.0px">1</text><rect x="-0.32" y="-1.77" width="3.03" height="3.44" fill="#fff"/><rect x="3.79" y="-1.77" width="2.52" height="3.44" fill="#fff"/><text x="6.12" y="0" fill="#111" stroke="#111" stroke-width="0.28" style="font-family:'Liberation Sans',sans-serif;font-size:11.0px">2</text></g><g transform="translate(343.88,257.20) scale(1,1.17)"><text x="0.00" y="0" fill="#111" stroke="#111" stroke-width="0.28" style="font-family:'Liberation Sans',sans-serif;font-size:11.0px">1</text><rect x="-0.32" y="-1.77" width="3.03" height="3.44" fill="#fff"/><rect x="3.79" y="-1.77" width="2.52" height="3.44" fill="#fff"/><text x="6.12" y="0" fill="#111" stroke="#111" stroke-width="0.28" style="font-family:'Liberation Sans',sans-serif;font-size:11.0px">4</text></g><g transform="translate(387.18,243.30) scale(1,1.17)"><text x="0.00" y="0" fill="#111" stroke="#111" stroke-width="0.28" style="font-family:'Liberation Sans',sans-serif;font-size:11.0px">0</text></g><g transform="translate(387.18,185.01) scale(1,1.17)"><text x="0.00" y="0" fill="#111" stroke="#111" stroke-width="0.28" style="font-family:'Liberation Sans',sans-serif;font-size:11.0px">1</text><rect x="-0.32" y="-1.77" width="3.03" height="3.44" fill="#fff"/><rect x="3.79" y="-1.77" width="2.52" height="3.44" fill="#fff"/></g><g transform="translate(387.18,126.73) scale(1,1.17)"><text x="0.00" y="0" fill="#111" stroke="#111" stroke-width="0.28" style="font-family:'Liberation Sans',sans-serif;font-size:11.0px">2</text></g><g transform="translate(387.18,68.44) scale(1,1.17)"><text x="0.00" y="0" fill="#111" stroke="#111" stroke-width="0.28" style="font-family:'Liberation Sans',sans-serif;font-size:11.0px">3</text></g><g transform="translate(387.18,10.15) scale(1,1.17)"><text x="0.00" y="0" fill="#111" stroke="#111" stroke-width="0.28" style="font-family:'Liberation Sans',sans-serif;font-size:11.0px">4</text></g><g transform="translate(398.24,257.20) scale(1,1.17)"><text x="0.00" y="0" fill="#111" stroke="#111" stroke-width="0.28" style="font-family:'Liberation Sans',sans-serif;font-size:11.0px">0</text></g><g transform="translate(443.14,257.20) scale(1,1.17)"><text x="0.00" y="0" fill="#111" stroke="#111" stroke-width="0.28" style="font-family:'Liberation Sans',sans-serif;font-size:11.0px">2</text></g><g transform="translate(488.04,257.20) scale(1,1.17)"><text x="0.00" y="0" fill="#111" stroke="#111" stroke-width="0.28" style="font-family:'Liberation Sans',sans-serif;font-size:11.0px">4</text></g><g transform="translate(532.94,257.20) scale(1,1.17)"><text x="0.00" y="0" fill="#111" stroke="#111" stroke-width="0.28" style="font-family:'Liberation Sans',sans-serif;font-size:11.0px">6</text></g><g transform="translate(577.84,257.20) scale(1,1.17)"><text x="0.00" y="0" fill="#111" stroke="#111" stroke-width="0.28" style="font-family:'Liberation Sans',sans-serif;font-size:11.0px">8</text></g><g transform="translate(619.68,257.20) scale(1,1.17)"><text x="0.00" y="0" fill="#111" stroke="#111" stroke-width="0.28" style="font-family:'Liberation Sans',sans-serif;font-size:11.0px">1</text><rect x="-0.32" y="-1.77" width="3.03" height="3.44" fill="#fff"/><rect x="3.79" y="-1.77" width="2.52" height="3.44" fill="#fff"/><text x="6.12" y="0" fill="#111" stroke="#111" stroke-width="0.28" style="font-family:'Liberation Sans',sans-serif;font-size:11.0px">0</text></g><g transform="translate(664.58,257.20) scale(1,1.17)"><text x="0.00" y="0" fill="#111" stroke="#111" stroke-width="0.28" style="font-family:'Liberation Sans',sans-serif;font-size:11.0px">1</text><rect x="-0.32" y="-1.77" width="3.03" height="3.44" fill="#fff"/><rect x="3.79" y="-1.77" width="2.52" height="3.44" fill="#fff"/><text x="6.12" y="0" fill="#111" stroke="#111" stroke-width="0.28" style="font-family:'Liberation Sans',sans-serif;font-size:11.0px">2</text></g><g transform="translate(709.48,257.20) scale(1,1.17)"><text x="0.00" y="0" fill="#111" stroke="#111" stroke-width="0.28" style="font-family:'Liberation Sans',sans-serif;font-size:11.0px">1</text><rect x="-0.32" y="-1.77" width="3.03" height="3.44" fill="#fff"/><rect x="3.79" y="-1.77" width="2.52" height="3.44" fill="#fff"/><text x="6.12" y="0" fill="#111" stroke="#111" stroke-width="0.28" style="font-family:'Liberation Sans',sans-serif;font-size:11.0px">4</text></g><text x="195.2" y="277.1" text-anchor="middle" fill="#111" style="font-family:'Liberation Serif',serif;font-weight:bold;font-size:14.6px">Time s</text><text x="559.2" y="277.3" text-anchor="middle" fill="#111" style="font-family:'Liberation Serif',serif;font-weight:bold;font-size:14.6px">Time s</text><text x="196" y="297.3" text-anchor="middle" fill="#111" style="font-family:'Liberation Serif',serif;font-size:16.8px">(a)</text><text x="561.7" y="297.3" text-anchor="middle" fill="#111" style="font-family:'Liberation Serif',serif;font-size:16.8px">(b)</text><text transform="translate(11.6,134.1) rotate(-90)" text-anchor="middle" fill="#111" style="font-family:'Liberation Serif',serif;font-weight:bold;font-size:14px" textLength="118" lengthAdjust="spacingAndGlyphs">Acceleration m/s^2</text><text transform="translate(377.1,132.4) rotate(-90)" text-anchor="middle" fill="#111" style="font-family:'Liberation Serif',serif;font-weight:bold;font-size:14px" textLength="118.2" lengthAdjust="spacingAndGlyphs">Control Current A</text><text x="42.4" y="211.7" fill="#111" stroke="#111" stroke-width="0.32" style="font-family:'Liberation Serif',serif;font-weight:bold;font-size:8.8px" textLength="36.8" lengthAdjust="spacingAndGlyphs">Fuzzy OFF</text><text x="179.6" y="203.7" fill="#111" stroke="#111" stroke-width="0.32" style="font-family:'Liberation Serif',serif;font-weight:bold;font-size:8.8px" textLength="32.8" lengthAdjust="spacingAndGlyphs">Fuzzy ON</text><text x="311.2" y="209.9" fill="#111" stroke="#111" stroke-width="0.32" style="font-family:'Liberation Serif',serif;font-weight:bold;font-size:8.8px" textLength="36.8" lengthAdjust="spacingAndGlyphs">Fuzzy OFF</text><line x1="80" y1="208.5" x2="111.6" y2="208.5" stroke="#8a8a8a" stroke-width="0.6"/><polygon points="115.6,208.5 109.39999999999999,206.75 109.89999999999999,208.5 109.39999999999999,210.25" fill="#0d0d0d"/><line x1="125" y1="200.6" x2="178" y2="200.6" stroke="#8a8a8a" stroke-width="0.6"/><polygon points="121,200.6 127.2,198.85 126.7,200.6 127.2,202.35" fill="#0d0d0d"/><line x1="214" y1="201.2" x2="268" y2="201.2" stroke="#8a8a8a" stroke-width="0.6"/><polygon points="272,201.2 265.8,199.45 266.3,201.2 265.8,202.95" fill="#0d0d0d"/><line x1="279.5" y1="207.8" x2="311" y2="207.8" stroke="#444" stroke-width="0.6"/><polygon points="275.5,207.8 281.7,206.05 281.2,207.8 281.7,209.55" fill="#0d0d0d"/></svg>
</body></html>
